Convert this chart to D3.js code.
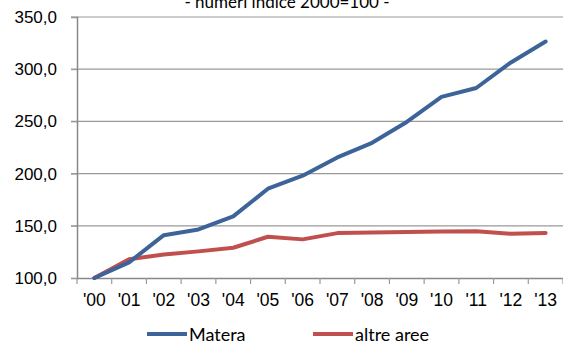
<!DOCTYPE html>
<html>
<head>
<meta charset="utf-8">
<script src="https://cdn.jsdelivr.net/npm/d3@7"></script>
<style>
  body { margin: 0; background: #fff; }
  svg { display: block; font-family: Lato, "Open Sans", sans-serif; }
</style>
</head>
<body>
<svg id="chart" width="563" height="345"></svg>
<script>
// dati: numeri indice 2000=100
const anni = ["'00", "'01", "'02", "'03", "'04", "'05", "'06", "'07", "'08", "'09", "'10", "'11", "'12", "'13"];
const matera = [100, 115, 141, 146.5, 159, 185.5, 198, 215.5, 229.5, 249.5, 273.5, 282, 306.5, 326.5];
const altreAree = [100, 118, 122.5, 125.5, 129, 139.5, 137, 143, 143.5, 144, 144.5, 144.8, 142.3, 143.2];
const yTicks = [100, 150, 200, 250, 300, 350];

const serie = [
  { nome: "Matera", valori: matera, colore: "#3c6499" },
  { nome: "altre aree", valori: altreAree, colore: "#c0504d" }
];

const svg = d3.select("#chart");
const W = 563;

const x = d3.scaleBand().domain(anni).range([77, 563]);
const y = d3.scaleLinear().domain([100, 350]).range([278, 17]);

// griglia orizzontale
svg.append("g")
  .selectAll("line")
  .data(yTicks.filter(d => d > 100))
  .enter()
  .append("line")
  .attr("x1", 71).attr("x2", W)
  .attr("y1", d => y(d)).attr("y2", d => y(d))
  .attr("stroke", "#999").attr("stroke-width", 1.2);

// asse y
const yAxis = svg.append("g")
  .attr("transform", "translate(77,0)")
  .call(d3.axisLeft(y).tickValues(yTicks).tickSize(6).tickPadding(14)
    .tickFormat(d => d3.format(".1f")(d).replace(".", ",")));
yAxis.select(".domain").attr("stroke", "#888").attr("stroke-width", 1.5);
yAxis.selectAll(".tick line").attr("stroke", "#999");
yAxis.selectAll("text").attr("font-size", 17).attr("fill", "#000");

// asse x
const xAxis = svg.append("g")
  .attr("transform", `translate(0,${y(100)})`)
  .call(d3.axisBottom(x).tickSize(0).tickPadding(16));
xAxis.select(".domain").attr("stroke", "#888").attr("stroke-width", 1.5);
xAxis.selectAll("text").attr("font-size", 17.5).attr("fill", "#000");

// tacche tra le categorie
svg.append("g")
  .selectAll("line")
  .data(d3.range(anni.length + 1))
  .enter()
  .append("line")
  .attr("x1", i => 77 + i * x.step()).attr("x2", i => 77 + i * x.step())
  .attr("y1", y(100)).attr("y2", y(100) + 6)
  .attr("stroke", "#999").attr("stroke-width", 1.2);

// linee
const linea = d3.line()
  .x((d, i) => x(anni[i]) + x.bandwidth() / 2)
  .y(d => y(d));

svg.append("g")
  .selectAll("path")
  .data(serie.slice().reverse())
  .enter()
  .append("path")
  .attr("d", d => linea(d.valori))
  .attr("fill", "none")
  .attr("stroke", d => d.colore)
  .attr("stroke-width", 4)
  .attr("stroke-linejoin", "round")
  .attr("stroke-linecap", "round");

// titolo (tagliato in alto, come nell'originale)
svg.append("text")
  .attr("x", 287).attr("y", 8)
  .attr("text-anchor", "middle")
  .attr("font-size", 17)
  .text("- numeri indice 2000=100 -");

// legenda
const legX = [147, 313];
const leg = svg.append("g")
  .selectAll("g")
  .data(serie)
  .enter()
  .append("g")
  .attr("transform", (d, i) => `translate(${legX[i]},334)`);

leg.append("line")
  .attr("x1", 0).attr("x2", 40)
  .attr("stroke", d => d.colore).attr("stroke-width", 4);

leg.append("text")
  .attr("x", 42).attr("y", 7)
  .attr("font-size", 18)
  .text(d => d.nome);
</script>
</body>
</html>
